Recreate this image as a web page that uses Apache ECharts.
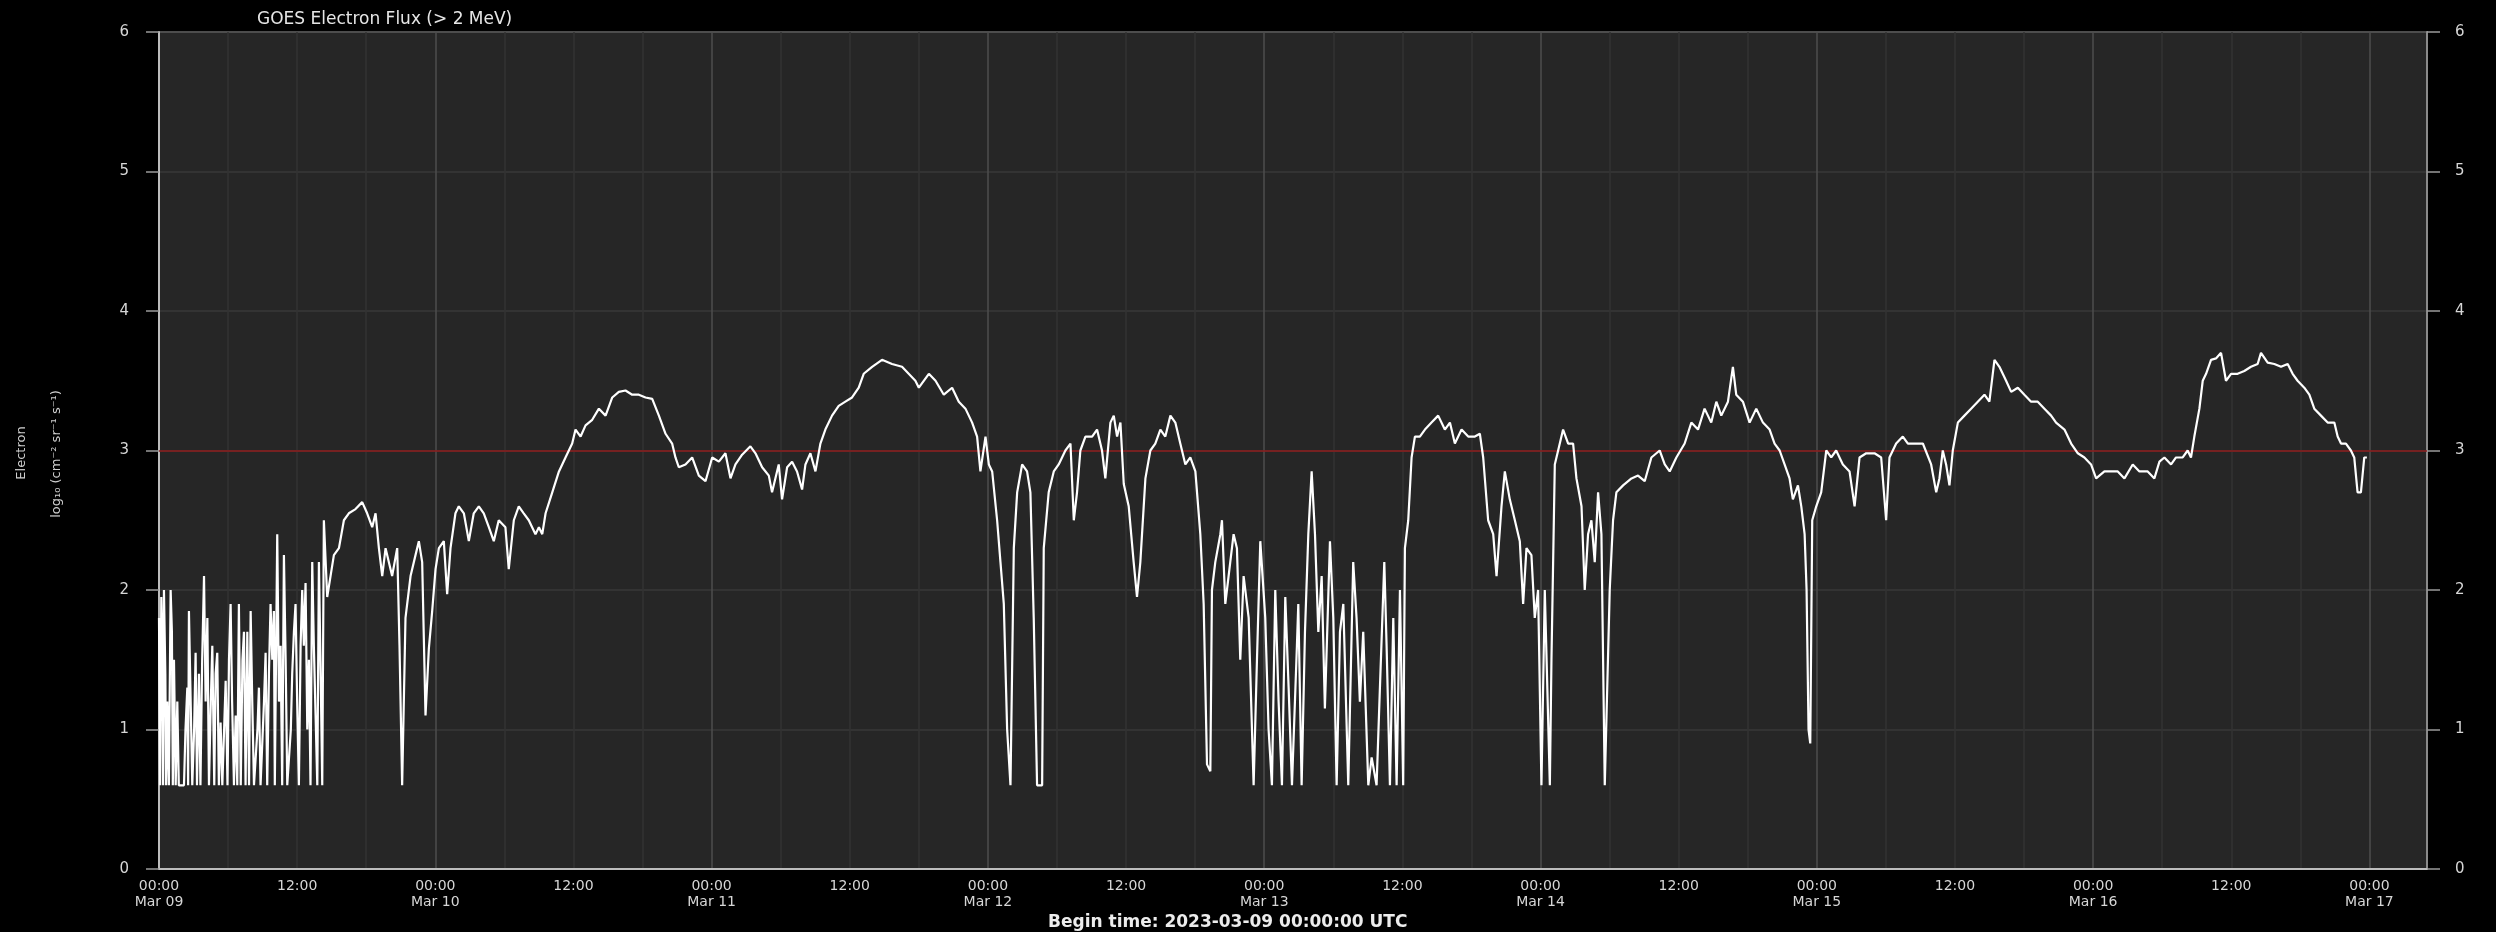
<!DOCTYPE html>
<html>
<head>
<meta charset="utf-8">
<style>
html,body{margin:0;padding:0;background:#000;}
#chart{width:2496px;height:932px;}
</style>
<script src="https://cdn.jsdelivr.net/npm/echarts@6/dist/echarts.min.js"></script>
</head>
<body>
<div id="chart"></div>
<script>
// ---- Texts ----
const chartTitle = 'GOES Electron Flux (> 2 MeV)';
const beginTime = 'Begin time: 2023-03-09 00:00:00 UTC';
const yNameLine1 = 'Electron';
const yNameLine2 = 'log\u2081\u2080 (cm\u207B\u00B2 sr\u207B\u00B9 s\u207B\u00B9)';

// ---- Tick labels ----
const dayLabels = ['Mar 09','Mar 10','Mar 11','Mar 12','Mar 13','Mar 14','Mar 15','Mar 16','Mar 17'];
const midnightLabel = '00:00';
const noonLabel = '12:00';
const yTickLabels = ['0','1','2','3','4','5','6'];

// ---- Axis ranges (hours since 2023-03-09 00:00 UTC) ----
const xRange = [0, 197];
const yRange = [0, 6];
const thresholdLevel = [3];

// ---- Series: hours since start ----
const hours = [
 0.00,0.10,0.20,0.29,0.36,0.43,0.55,0.62,0.72,0.86,1.01,1.12,1.20,1.30,1.45,1.59,1.72,1.88,2.17,2.30,2.46,2.53,2.60,2.75,2.89,3.05,3.18,3.30,3.47,3.60,3.75,3.91,4.05,4.20,4.34,4.50,4.63,4.80,4.92,5.06,5.20,5.35,5.50,5.64,5.79,5.95,6.08,6.22,6.35,6.51,6.66,6.80,6.94,7.10,7.25,7.38,7.52,7.67,7.82,7.96,8.10,8.25,8.40,8.55,8.68,8.82,8.97,9.12,9.26,9.40,9.55,9.69,9.84,9.98,10.06,10.13,10.20,10.27,10.42,10.56,10.70,10.85,11.00,11.14,11.30,11.45,11.57,11.72,11.86,12.00,12.15,12.30,12.44,12.58,12.73,12.88,13.02,13.16,13.31,13.45,13.60,13.75,13.89,14.04,14.18,
 14.32,14.61,14.90,15.19,15.63,16.06,16.49,17.07,17.65,18.08,18.52,18.81,19.10,19.39,19.68,20.25,20.69,20.89,21.12,21.41,21.85,22.28,22.57,22.86,23.15,23.44,23.73,24.02,24.31,24.74,25.03,25.32,25.75,26.04,26.48,26.91,27.34,27.78,28.21,28.65,29.08,29.51,30.09,30.38,30.82,31.25,31.68,32.12,32.70,
 33.00,33.29,33.58,34.16,34.74,35.31,35.89,36.18,36.62,37.05,37.63,38.21,38.79,39.37,39.94,40.52,41.10,41.68,42.26,42.84,43.42,44.00,44.57,44.86,45.15,45.73,46.31,46.89,47.47,48.05,48.63,49.20,49.64,50.07,50.65,51.37,51.81,52.39,52.97,53.25,53.83,54.12,54.56,54.99,55.42,55.86,56.15,56.58,57.02,57.45,57.88,58.46,59.04,59.62,60.20,60.78,61.21,61.94,62.80,63.67,64.54,65.12,65.70,
 66.00,66.87,67.45,68.17,68.89,69.47,70.05,70.63,71.06,71.35,71.79,72.08,72.37,72.80,73.09,73.38,73.67,73.96,74.25,74.54,74.97,75.40,75.69,75.98,76.27,76.71,76.85,77.28,77.72,78.15,78.73,79.17,79.46,79.74,80.03,80.47,81.05,81.48,81.91,82.20,82.64,82.93,83.22,83.51,83.80,84.23,84.66,84.95,85.24,85.68,86.11,86.54,86.98,87.41,87.85,88.28,88.71,89.15,89.58,90.02,90.45,90.74,91.03,91.32,91.46,91.75,92.19,92.33,92.62,93.05,93.34,93.63,93.92,94.21,94.65,95.08,95.37,95.66,96.09,96.38,96.67,96.96,97.25,97.54,97.83,98.12,98.41,98.84,
 98.96,99.25,99.54,99.83,100.12,100.41,100.70,100.99,101.27,101.71,102.00,102.29,102.58,102.87,103.30,103.73,104.02,104.31,104.60,105.04,105.33,105.76,106.05,106.43,106.63,106.92,107.21,107.50,107.79,108.07,108.22,108.51,108.80,109.09,109.52,109.96,110.53,111.11,111.69,112.13,112.56,113.14,113.72,114.30,114.73,115.02,115.45,115.89,116.18,116.61,116.90,117.33,117.77,118.20,118.49,118.78,119.21,119.50,119.79,120.08,120.37,120.81,120.95,121.24,121.53,121.96,122.40,122.83,123.12,123.56,123.84,124.13,124.42,124.71,125.00,125.29,125.58,126.01,126.30,126.59,127.17,127.90,128.47,129.05,129.63,130.35,130.79,131.22,131.80,
 132.52,133.10,133.68,134.25,134.83,135.27,135.70,136.28,136.71,137.00,137.58,138.16,138.74,139.32,139.90,140.33,140.77,141.20,141.63,141.92,142.36,142.65,142.94,143.11,143.28,143.43,143.60,143.95,144.38,144.82,145.25,145.68,146.26,146.84,147.28,147.71,148.29,149.01,149.59,150.02,150.31,150.89,151.47,151.91,152.48,153.21,153.93,154.37,154.65,154.94,155.23,155.52,155.81,156.25,156.82,157.40,157.98,158.56,158.99,159.43,159.86,160.44,160.88,161.46,162.03,162.61,163.19,163.77,164.35,164.78,
 165.51,166.09,166.67,167.24,167.82,168.26,168.98,169.56,170.14,170.72,171.44,172.02,172.74,173.32,173.76,174.19,174.77,175.20,175.78,176.21,176.50,176.79,177.23,177.52,177.81,178.24,178.67,179.11,179.54,179.98,180.55,181.13,181.71,182.29,182.58,183.16,183.74,184.32,184.90,185.33,185.76,186.34,186.78,187.21,187.79,188.37,188.95,189.24,189.53,189.96,190.39,190.68,190.97,191.26,191.55,191.78
];

// ---- Series: log10 electron flux ----
const flux = [
 1.80,0.60,1.95,1.60,0.60,2.00,1.40,0.60,1.20,0.60,2.00,1.70,0.60,1.50,0.60,1.20,0.60,0.60,0.60,1.00,1.30,0.60,1.85,1.20,0.60,1.00,1.55,0.60,1.40,0.60,1.50,2.10,1.20,1.80,0.60,1.20,1.60,0.60,1.40,1.55,0.60,1.05,0.60,0.60,1.35,0.60,1.50,1.90,1.20,0.60,1.10,0.60,1.90,0.60,1.50,1.70,0.60,1.70,0.60,1.85,1.20,0.60,0.60,1.00,1.30,0.60,0.60,1.20,1.55,0.60,1.40,1.90,1.50,1.85,0.60,0.60,1.80,2.40,1.20,1.60,0.60,2.25,1.50,0.60,0.60,1.00,1.40,1.70,1.90,1.20,0.60,1.60,2.00,1.60,2.05,1.00,1.50,0.60,2.20,1.60,1.10,0.60,2.20,1.40,0.60,
 2.50,1.95,2.10,2.25,2.30,2.50,2.55,2.58,2.63,2.55,2.45,2.55,2.30,2.10,2.30,2.10,2.30,1.60,0.60,1.80,2.10,2.25,2.35,2.20,1.10,1.58,1.85,2.15,2.30,2.35,1.97,2.30,2.55,2.60,2.55,2.35,2.55,2.60,2.55,2.45,2.35,2.50,2.45,2.15,2.50,2.60,2.55,2.50,2.40,
 2.45,2.40,2.55,2.70,2.85,2.95,3.05,3.15,3.10,3.18,3.22,3.30,3.25,3.38,3.42,3.43,3.40,3.40,3.38,3.37,3.25,3.12,3.05,2.95,2.88,2.90,2.95,2.82,2.78,2.95,2.92,2.98,2.80,2.90,2.97,3.03,2.98,2.88,2.82,2.70,2.90,2.65,2.88,2.92,2.85,2.72,2.90,2.98,2.85,3.05,3.15,3.25,3.32,3.35,3.38,3.45,3.55,3.60,3.65,3.62,3.60,3.55,3.50,
 3.45,3.55,3.50,3.40,3.45,3.35,3.30,3.20,3.10,2.85,3.10,2.90,2.85,2.50,2.20,1.90,1.00,0.60,2.30,2.70,2.90,2.85,2.70,1.80,0.60,0.60,2.30,2.70,2.85,2.90,3.00,3.05,2.50,2.70,3.00,3.10,3.10,3.15,3.00,2.80,3.20,3.25,3.10,3.20,2.76,2.60,2.20,1.95,2.20,2.80,3.00,3.05,3.15,3.10,3.25,3.20,3.05,2.90,2.95,2.85,2.40,1.90,0.75,0.70,2.00,2.20,2.40,2.50,1.90,2.20,2.40,2.30,1.50,2.10,1.80,0.60,1.50,2.35,1.80,1.00,0.60,2.00,1.20,0.60,1.95,1.30,0.60,1.60,
 1.90,0.60,1.70,2.40,2.85,2.40,1.70,2.10,1.15,2.35,1.80,0.60,1.70,1.90,0.60,2.20,1.80,1.20,1.70,0.60,0.80,0.60,1.30,2.20,1.60,0.60,1.80,0.60,2.00,0.60,2.30,2.50,2.95,3.10,3.10,3.15,3.20,3.25,3.15,3.20,3.05,3.15,3.10,3.10,3.12,2.95,2.50,2.40,2.10,2.60,2.85,2.65,2.50,2.35,1.90,2.30,2.25,1.80,2.00,0.60,2.00,0.60,1.50,2.90,3.00,3.15,3.05,3.05,2.80,2.60,2.00,2.40,2.50,2.20,2.70,2.40,0.60,2.00,2.50,2.70,2.75,2.80,2.82,2.78,2.95,3.00,2.90,2.85,2.95,
 3.05,3.20,3.15,3.30,3.20,3.35,3.25,3.35,3.60,3.40,3.35,3.20,3.30,3.20,3.15,3.05,3.00,2.90,2.80,2.65,2.75,2.60,2.40,2.00,1.00,0.90,2.50,2.60,2.70,3.00,2.95,3.00,2.90,2.85,2.60,2.95,2.98,2.98,2.95,2.50,2.95,3.05,3.10,3.05,3.05,3.05,2.90,2.70,2.80,3.00,2.90,2.75,3.00,3.20,3.25,3.30,3.35,3.40,3.35,3.65,3.60,3.50,3.42,3.45,3.40,3.35,3.35,3.30,3.25,3.20,
 3.15,3.05,2.98,2.95,2.90,2.80,2.85,2.85,2.85,2.80,2.90,2.85,2.85,2.80,2.92,2.95,2.90,2.95,2.95,3.00,2.95,3.10,3.30,3.50,3.55,3.65,3.66,3.70,3.50,3.55,3.55,3.57,3.60,3.62,3.70,3.63,3.62,3.60,3.62,3.55,3.50,3.45,3.40,3.30,3.25,3.20,3.20,3.10,3.05,3.05,3.00,2.95,2.70,2.70,2.95,2.95
];

const seriesData = hours.map((h, i) => [h, flux[i]]);

const chart = echarts.init(document.getElementById('chart'), null, {renderer: 'canvas'});
const FONT = 'DejaVu Sans';
const LABEL_COLOR = '#d6d6d6';

chart.setOption({
  backgroundColor: '#000000',
  animation: false,
  title: [
    {text: chartTitle, left: 252, top: 6,
     textStyle: {color: '#e6e6e6', fontSize: 17, fontWeight: 'normal', fontFamily: FONT}},
    {text: beginTime, left: 1043, top: 909,
     textStyle: {color: '#ececec', fontSize: 17, fontWeight: 'bold', fontFamily: FONT}}
  ],
  grid: {left: 159, right: 69, top: 32, bottom: 63, show: true,
         backgroundColor: '#262626', borderColor: '#8a8a8a', borderWidth: 2},
  xAxis: {
    type: 'value', min: xRange[0], max: xRange[1], interval: 6,
    axisLine: {show: true, onZero: false, lineStyle: {color: '#bdbdbd', width: 2}},
    axisTick: {show: false},
    splitLine: {show: true, lineStyle: {color: ['#4e4e4e', '#333333', '#333333', '#333333'], width: 1.5}},
    axisLabel: {
      color: LABEL_COLOR, fontSize: 14, lineHeight: 16, margin: 9, fontFamily: FONT,
      showMaxLabel: false,
      formatter: function (v) {
        if (v % 12 !== 0) return '';
        if (v % 24 === 0) return midnightLabel + '\n' + dayLabels[v / 24];
        return noonLabel;
      }
    }
  },
  yAxis: [
    {
      type: 'value', min: yRange[0], max: yRange[1], interval: 1, position: 'left',
      axisLine: {show: true, lineStyle: {color: '#bdbdbd', width: 2}},
      axisTick: {show: true, length: 13, lineStyle: {color: '#9a9a9a', width: 1.5}},
      axisLabel: {color: LABEL_COLOR, fontSize: 15, margin: 30, fontFamily: FONT,
                  formatter: v => yTickLabels[v]},
      splitLine: {show: true, lineStyle: {color: '#383838', width: 1.5}}
    },
    {
      type: 'value', min: yRange[0], max: yRange[1], interval: 1, position: 'right',
      axisLine: {show: true, lineStyle: {color: '#8a8a8a', width: 2}},
      axisTick: {show: true, length: 13, lineStyle: {color: '#9a9a9a', width: 1.5}},
      axisLabel: {color: LABEL_COLOR, fontSize: 15, margin: 28, fontFamily: FONT,
                  formatter: v => yTickLabels[v]},
      splitLine: {show: false}
    }
  ],
  graphic: [
    {type: 'text', x: 22, y: 453, rotation: Math.PI / 2,
     style: {text: yNameLine1, fill: '#cfcfcf', fontSize: 13, fontFamily: FONT,
             align: 'center', verticalAlign: 'middle', textAlign: 'center', textVerticalAlign: 'middle'}},
    {type: 'text', x: 57, y: 454, rotation: Math.PI / 2,
     style: {text: yNameLine2, fill: '#cfcfcf', fontSize: 13, fontFamily: FONT,
             align: 'center', verticalAlign: 'middle', textAlign: 'center', textVerticalAlign: 'middle'}}
  ],
  series: [{
    type: 'line',
    data: seriesData,
    showSymbol: false,
    symbol: 'none',
    lineStyle: {color: '#ffffff', width: 2.2},
    z: 5,
    markLine: {
      silent: true,
      symbol: ['none', 'none'],
      label: {show: false},
      lineStyle: {color: '#8e1c1c', width: 1.5, type: 'solid'},
      data: thresholdLevel.map(v => ({yAxis: v}))
    }
  }]
});
</script>
</body>
</html>
